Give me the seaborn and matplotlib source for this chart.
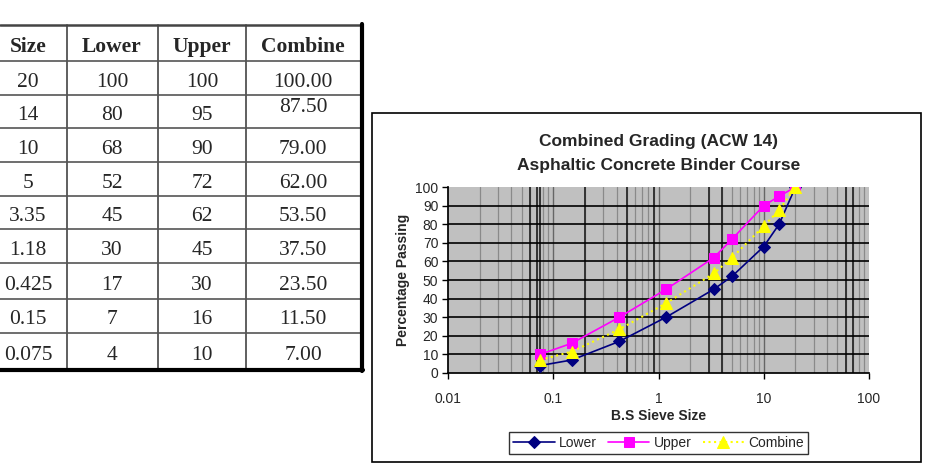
import matplotlib
matplotlib.use('agg')
import matplotlib.pyplot as plt
import numpy as np
import pandas as pd
import seaborn as sns
from matplotlib.patches import Rectangle
from matplotlib.ticker import FixedLocator

# grading data (BS sieve sizes, % passing)
sizes = [20, 14, 10, 5, 3.35, 1.18, 0.425, 0.15, 0.075]
size_labels = ['20', '14', '10', '5', '3.35', '1.18', '0.425', '0.15', '0.075']
lower = [100, 80, 68, 52, 45, 30, 17, 7, 4]
upper = [100, 95, 90, 72, 62, 45, 30, 16, 10]
combine = [100.00, 87.50, 79.00, 62.00, 53.50, 37.50, 23.50, 11.50, 7.00]
headers = ['Size', 'Lower', 'Upper', 'Combine']

df = pd.DataFrame({'size': sizes, 'Lower': lower, 'Upper': upper, 'Combine': combine})

sns.set_theme(style='white')
plt.rcParams['font.family'] = ['Liberation Sans', 'DejaVu Sans']

fig = plt.figure(figsize=(9.26, 4.74), dpi=100)
fig.patch.set_facecolor('white')

# background axes in pixel coords for the table and chart frame
bg = fig.add_axes([0, 0, 1, 1])
bg.set_xlim(0, 926)
bg.set_ylim(474, 0)
bg.axis('off')

col_x = [0, 67, 158, 246, 362]
row_y = [25, 61, 95, 128, 162, 196, 229, 263, 299, 333, 370]
col_cx = [28, 112, 202, 303]

for x in col_x[1:-1]:
    bg.plot([x, x], [row_y[0], row_y[-1]], color='#444444', lw=1.2)
for y in row_y[1:-1]:
    bg.plot([0, col_x[-1]], [y, y], color='#555555', lw=1.2)
bg.plot([0, col_x[-1]], [row_y[0], row_y[0]], color='#444444', lw=1.8)
bg.plot([col_x[-1], col_x[-1]], [row_y[0] - 1, row_y[-1] + 1], color='black', lw=3)
bg.plot([0, col_x[-1] + 1], [row_y[-1], row_y[-1]], color='black', lw=3)

serif = ['Liberation Serif', 'DejaVu Serif']
for cx, h in zip(col_cx, headers):
    bg.text(cx, (row_y[0] + row_y[1]) / 2 + 4, h, ha='center', va='center',
            fontsize=15.5, fontweight='bold', family=serif)

for i in range(len(sizes)):
    cy = (row_y[i + 1] + row_y[i + 2]) / 2 + 4
    vals = [size_labels[i], str(lower[i]), str(upper[i]), f'{combine[i]:.2f}']
    for j, (cx, v) in enumerate(zip(col_cx, vals)):
        dy = -8 if (j == 3 and i == 1) else 0
        bg.text(cx, cy + dy, v, ha='center', va='center', fontsize=15.5, family=serif)

# chart frame
bg.add_patch(Rectangle((372, 113), 549, 349, fill=False, edgecolor='black', lw=1.2))

# chart
ax = fig.add_axes([448 / 926, 1 - 373 / 474, 421 / 926, 186 / 474])
ax.set_facecolor('#C0C0C0')
ax.set_xscale('log')
ax.set_xlim(0.01, 100)
ax.set_ylim(0, 100)

minor = [m * 10.0 ** e for e in range(-2, 2) for m in range(2, 10)]
for x in minor:
    ax.axvline(x, color='#8a8a8a', lw=0.9, zorder=0)
dark_grid = [0.06, 0.07, 0.075, 0.2, 0.5, 0.9, 3, 4, 60, 70]
for x in dark_grid:
    ax.axvline(x, color='#333333', lw=1.4, zorder=0)
for x in [0.1, 1, 10]:
    ax.axvline(x, color='#666666', lw=1.0, zorder=0)
for y in range(10, 100, 10):
    ax.axhline(y, color='black', lw=1.2, zorder=0)

sns.lineplot(data=df, x='size', y='Lower', ax=ax, color='#000080', lw=1.2,
             marker='D', markersize=6, markeredgecolor='#000080', label='Lower', zorder=3)
sns.lineplot(data=df, x='size', y='Upper', ax=ax, color='#FF00FF', lw=1.2,
             marker='s', markersize=7, markeredgecolor='#FF00FF', label='Upper', zorder=3)
sns.lineplot(data=df, x='size', y='Combine', ax=ax, color='#FFFF00', lw=1.5,
             linestyle=':', marker='^', markersize=8, markeredgecolor='#FFFF00',
             label='Combine', zorder=3)

ax.set_yticks(range(0, 101, 10))
ax.xaxis.set_minor_locator(FixedLocator([]))
ax.set_xticks([0.01, 0.1, 1, 10, 100])
ax.set_xticklabels(['0.01', '0.1', '1', '10', '100'])
ax.tick_params(axis='both', labelsize=10, length=4, width=1, color='black',
               direction='out', bottom=True, left=True, pad=10)
ax.tick_params(axis='y', pad=3)
for s in ax.spines.values():
    s.set_visible(False)
ax.spines['left'].set_visible(True)
ax.spines['bottom'].set_visible(True)
ax.spines['left'].set_color('black')
ax.spines['bottom'].set_color('black')

ax.set_xlabel('B.S Sieve Size', fontsize=10, fontweight='bold', labelpad=2)
ax.set_ylabel('Percentage Passing', fontsize=10, fontweight='bold', labelpad=4)
ax.set_title('Combined Grading (ACW 14)\nAsphaltic Concrete Binder Course',
             fontsize=12.5, fontweight='bold', pad=12, linespacing=1.75)

leg = ax.legend(loc='upper center', bbox_to_anchor=(0.5, -0.28), ncol=3,
                frameon=True, fancybox=False, edgecolor='black', fontsize=10,
                handlelength=3.0, columnspacing=0.8, borderpad=0.3, handletextpad=0.3)
leg.get_frame().set_linewidth(1.0)

fig.savefig('out.png', dpi=100, facecolor='white')
